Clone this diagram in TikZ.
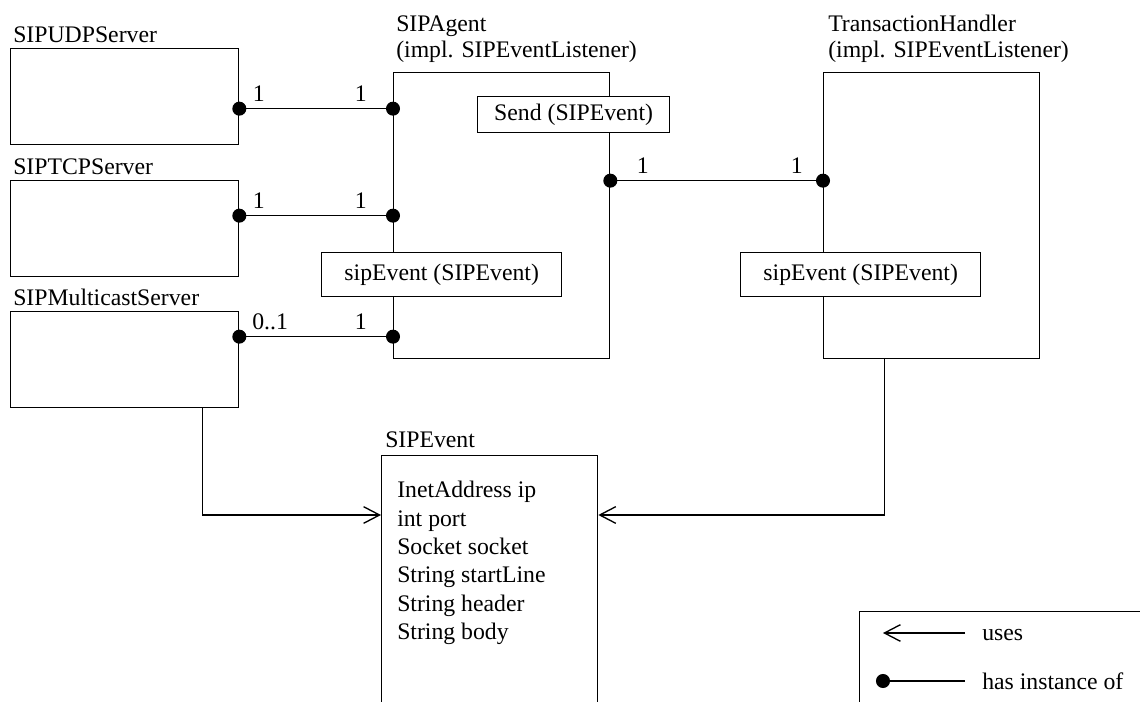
\documentclass[tikz,border=0pt]{standalone}
\usepackage{fontspec}
\setmainfont{Liberation Serif}
\usetikzlibrary{arrows.meta,positioning}

\tikzset{
  box/.style = {draw, line width=1pt, inner sep=0pt},
  title/.style = {inner sep=0pt, anchor=base west},
  mult/.style = {inner sep=0pt, above=4.5pt},
  hasinst/.style = {line width=1pt, {Circle[length=10.5pt]}-{Circle[length=10.5pt]},
    shorten <=-5.25pt, shorten >=-5.25pt},
  usesarrow/.style = {line width=1pt, -{Straight Barb[length=12pt,width=12.5pt]}},
}

\begin{document}
\begin{tikzpicture}[x=0.75pt, y=-0.75pt, font=\fontsize{17.8}{21.3}\selectfont]
	\useasboundingbox (0,0) rectangle (1140,702);
	\clip (0,0) rectangle (1140,702);
	% servers
	\node[box, minimum width=171pt, minimum height=72pt, anchor=north west] (udp) at (10,48) {};
	\node[box, minimum width=171pt, minimum height=72pt, anchor=north west] (tcp) at (10,180) {};
	\node[box, minimum width=171pt, minimum height=72pt, anchor=north west] (mcast) at (10,311) {};
	\node[title] (udp-t) at ([shift={(2.25pt,3.75pt)}]udp.north west) {SIPUDPServer};
	\node[title] (tcp-t) at ([shift={(2.25pt,3.75pt)}]tcp.north west) {SIPTCPServer};
	\node[title] (mcast-t) at ([shift={(2.25pt,3.75pt)}]mcast.north west) {SIPMulticastServer};
	% agent and handler
	\node[box, minimum width=162pt, minimum height=214.5pt, anchor=north west] (agent) at (393,72) {};
	\node[box, minimum width=162pt, minimum height=214.5pt, anchor=north west] (handler) at (823,72) {};
	\node[title] (agent-t2) at ([shift={(2.25pt,10.5pt)}]agent.north west) {(impl. SIPEventListener)};
	\node[title] (agent-t1) at ([yshift=20pt]agent-t2.base west) {SIPAgent};
	\node[title] (handler-t2) at ([shift={(3.75pt,10.5pt)}]handler.north west) {(impl. SIPEventListener)};
	\node[title] (handler-t1) at ([yshift=20pt]handler-t2.base west) {TransactionHandler};
	\node[box, fill=white, minimum width=144pt, minimum height=27pt, anchor=north west] (send) at (477,96) {Send (SIPEvent)};
	\node[box, fill=white, minimum width=180pt, minimum height=33pt, anchor=north west] (agent-evt) at (321,252) {sipEvent (SIPEvent)};
	\node[box, fill=white, minimum width=180pt, minimum height=33pt, anchor=north west] (handler-evt) at (740,252) {sipEvent (SIPEvent)};
	% event
	\node[box, minimum width=162pt, minimum height=195pt, anchor=north west] (event) at (381,455) {};
	\node[title] (event-t) at ([shift={(3pt,5.25pt)}]event.north west) {SIPEvent};
	\node[inner sep=0pt, align=left, anchor=north west] (event-attr) at (397,481)
		{InetAddress ip\\int port\\Socket socket\\String startLine\\String header\\String body};
	% has instance of
	\coordinate (udp-out) at ([yshift=-9pt]udp.east);
	\coordinate (tcp-out) at ([yshift=9.75pt]tcp.east);
	\coordinate (mcast-out) at ([yshift=17.25pt]mcast.east);
	\coordinate (send-out) at ([yshift=26.25pt]agent.east);
	\draw[hasinst] (udp-out) -- node[mult, pos=0.126] {1} node[mult, pos=0.79] {1} (udp-out -| agent.west);
	\draw[hasinst] (tcp-out) -- node[mult, pos=0.126] {1} node[mult, pos=0.79] {1} (tcp-out -| agent.west);
	\draw[hasinst] (mcast-out) -- node[mult, pos=0.2] {0..1} node[mult, pos=0.79] {1} (mcast-out -| agent.west);
	\draw[hasinst] (send-out) -- node[mult, pos=0.153] {1} node[mult, pos=0.877] {1} (send-out -| handler.west);
	% uses
	\draw[usesarrow] ([xshift=58.5pt]mcast.south) |- ([yshift=-45pt]event.north west);
	\draw[usesarrow] ([xshift=-35.25pt]handler.south) |- ([yshift=-45pt]event.north east);
	% legend
	\node[box, minimum width=225pt, minimum height=90pt, anchor=north west] (legend) at (859,611) {};
	\node[title] (uses) at (982,640) {uses};
	\node[title] (hasinst) at (982,689) {has instance of};
	\coordinate (uses-end) at (883,633);
	\coordinate (hasinst-end) at (883,681);
	\draw[usesarrow] ([xshift=-12.75pt]uses.west |- uses-end) -- (uses-end);
	\draw[line width=1pt, {Circle[length=10.5pt]}-, shorten <=-5.25pt] (hasinst-end) -- ([xshift=-12.75pt]hasinst.west |- hasinst-end);
\end{tikzpicture}
\end{document}
